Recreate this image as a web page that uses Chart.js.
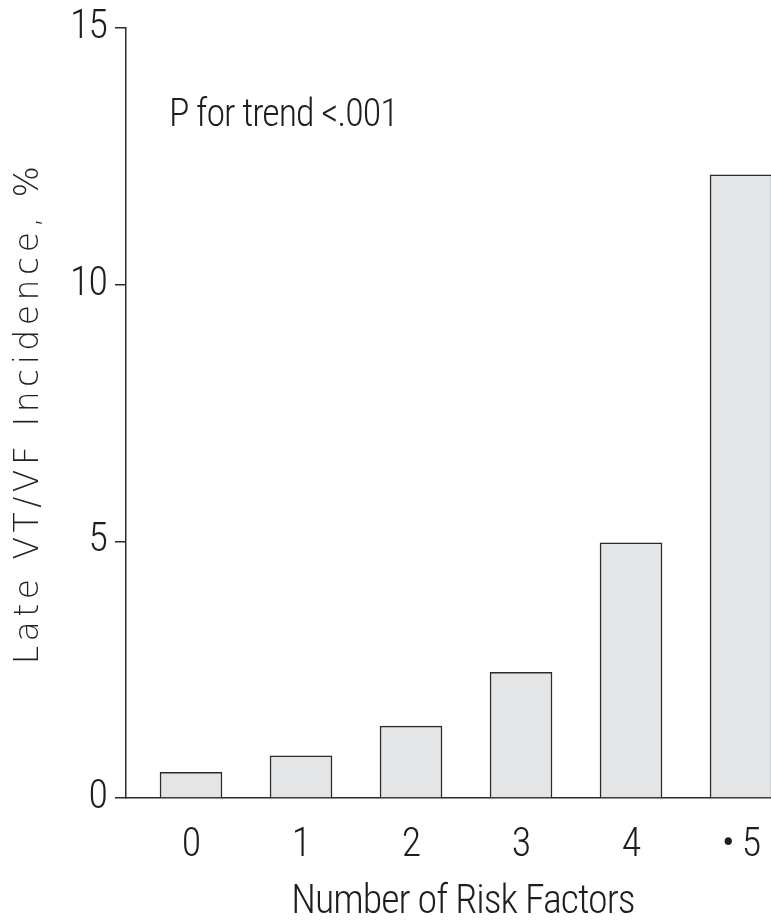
<!DOCTYPE html>
<html>
<head>
<meta charset="utf-8">
<script src="https://cdn.jsdelivr.net/npm/chart.js@4.4.1/dist/chart.umd.min.js"></script>
<style>
  html, body { margin: 0; padding: 0; background: #ffffff; overflow: hidden; }
  #wrap { width: 800px; height: 924px; }
</style>
</head>
<body>
<div id="wrap"><canvas id="chart" width="800" height="924"></canvas></div>
<script>
// Late VT/VF incidence by number of risk factors
const categories = ['0', '1', '2', '3', '4', '\u2022 5'];
const incidence = [0.5, 0.82, 1.4, 2.45, 4.97, 12.14];
const yTicks = [0, 5, 10, 15];
const trendNote = 'P for trend <.001';

const condensed = "'Roboto Condensed', Roboto, 'DejaVu Sans Condensed', sans-serif";
const ink = '#1e1e1e';

// Tight condensed light face for all chart text; the y title switches to a wide, tracked face
const stretchPlugin = {
  id: 'stretch',
  beforeDraw(chart) {
    chart.ctx.fontStretch = 'condensed';
    chart.ctx.letterSpacing = '-1px';
  },
  afterLayout(chart) {
    const y = chart.scales.y;
    if (y._wideTitle) return;
    y._wideTitle = true;
    const original = y.drawTitle.bind(y);
    y.drawTitle = function () {
      const ctx = y.ctx;
      const prevStretch = ctx.fontStretch;
      const prevSpacing = ctx.letterSpacing;
      ctx.fontStretch = 'normal';
      ctx.letterSpacing = '4.5px';
      original();
      ctx.fontStretch = prevStretch;
      ctx.letterSpacing = prevSpacing;
    };
  }
};

const notePlugin = {
  id: 'trendNote',
  afterDraw(chart) {
    const { ctx, scales } = chart;
    ctx.save();
    ctx.font = "300 38px " + condensed;
    ctx.fontStretch = 'condensed';
    ctx.letterSpacing = '-1px';
    ctx.fillStyle = ink;
    ctx.textAlign = 'left';
    ctx.textBaseline = 'alphabetic';
    ctx.fillText(trendNote, scales.x.getPixelForValue(-0.2), scales.y.getPixelForValue(13.1));
    ctx.restore();
  }
};

new Chart(document.getElementById('chart'), {
  type: 'bar',
  data: {
    datasets: [{
      data: incidence.map((v, i) => ({ x: i, y: v })),
      backgroundColor: '#e4e5e7',
      borderColor: '#2b2b2b',
      borderWidth: 1.5,
      borderSkipped: 'bottom',
      barThickness: 62
    }]
  },
  options: {
    responsive: false,
    animation: false,
    events: [],
    layout: { padding: { top: 25, left: 0, right: 0, bottom: 0 } },
    plugins: { legend: { display: false }, tooltip: { enabled: false } },
    scales: {
      x: {
        type: 'linear',
        offset: false,
        min: -0.591,
        max: 5.536,
        grid: { display: false, offset: false },
        border: { display: true, color: '#2b2b2b', width: 1.5 },
        ticks: {
          stepSize: 1,
          includeBounds: false,
          autoSkip: false,
          maxRotation: 0,
          padding: 16,
          color: ink,
          font: { family: condensed, size: 40, weight: '300' },
          callback: (v) => Number.isInteger(v) ? categories[v] : ''
        },
        title: {
          display: true,
          text: 'Number of Risk Factors',
          color: ink,
          font: { family: condensed, size: 40, weight: '300', lineHeight: 1 },
          padding: { top: 0, bottom: 1 }
        },
        afterFit: (s) => { s.height = 126; }
      },
      y: {
        min: 0,
        max: 15,
        grid: { display: true, drawOnChartArea: false, drawTicks: true, tickLength: 11, color: '#2b2b2b', lineWidth: 1.5 },
        border: { display: true, color: '#2b2b2b', width: 1.5 },
        afterBuildTicks: (s) => { s.ticks = yTicks.map(v => ({ value: v })); },
        ticks: {
          padding: 8,
          color: ink,
          font: { family: condensed, size: 40, weight: '300', lineHeight: 1 }
        },
        title: {
          display: true,
          text: 'Late VT/VF Incidence, %',
          color: '#222222',
          font: { family: "'DejaVu Sans', sans-serif", size: 33, weight: '200', lineHeight: 1 },
          padding: { top: 13, bottom: 0 }
        },
        afterFit: (s) => { s.width = 126; }
      }
    }
  },
  plugins: [stretchPlugin, notePlugin]
});
</script>
</body>
</html>
